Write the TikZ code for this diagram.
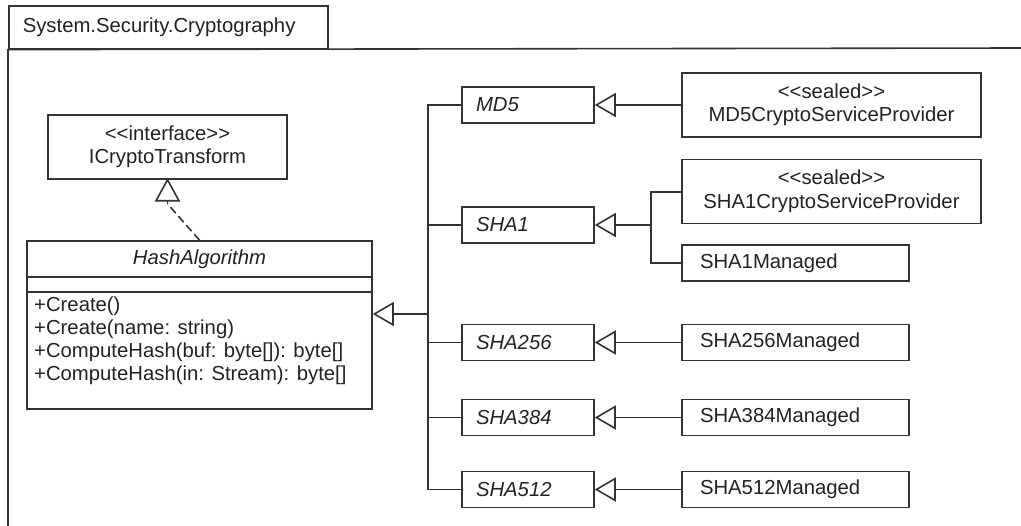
\documentclass[tikz,border=0pt]{standalone}
\usepackage{fontspec}
\setmainfont{Liberation Sans}[Ligatures=TeXOff]
\usetikzlibrary{arrows.meta}
\definecolor{ln}{HTML}{333333}
\definecolor{tx}{HTML}{222222}
\newcommand{\fsz}{\fontsize{20.3}{23.5}\selectfont}
\tikzset{
  conn/.style={draw=ln, line width=1.6pt},
  gen/.style={conn, -{Triangle[open, length=21pt, width=24pt]}},
  box/.style={draw=ln, line width=1.6pt, inner ysep=0pt, text=tx, font=\fsz},
  absbox/.style={box, minimum height=36pt, text width=104pt, inner xsep=14pt, align=left, font=\fsz\itshape},
  implbox/.style={box, minimum height=36pt, text width=191pt, inner xsep=18pt, align=left},
  cspbox/.style={box, minimum height=64pt, minimum width=299pt, inner xsep=0pt, align=center},
}
\begin{document}
\begin{tikzpicture}[x=1pt, y=-1pt]
\useasboundingbox (0,0) rectangle (1021,526);
% package frame
\node[box, minimum height=43pt, text width=291pt, inner xsep=14pt, align=left, anchor=north west] (pkg) at (8,5) {System.Security.Cryptography};
\coordinate (fbl) at (8,530);
\coordinate (ftr) at (1025,48);
\draw[conn] (fbl) -- (pkg.south west) -- (ftr);
% interface
\node[box, minimum width=239pt, minimum height=64pt, align=center] (iface) at (167.5,147) {<<interface>>\\ICryptoTransform};
% HashAlgorithm
\node[box, minimum width=345pt, minimum height=168pt] (hash) at (199.5,325) {};
\node[text=tx, font=\fsz\itshape, inner sep=0pt] (hashname) at (199.5,259) {HashAlgorithm};
\draw[conn] (hash.west |- 0,277) -- (hash.east |- 0,277);
\draw[conn] (hash.west |- 0,292) -- (hash.east |- 0,292);
\node[text=tx, font=\fontsize{20.3}{23}\selectfont, align=left, anchor=west, inner sep=0pt] (methods) at (34,341) {+Create()\\+Create(name: string)\\+ComputeHash(buf: byte[]): byte[]\\+ComputeHash(in: Stream): byte[]};
\coordinate (itip) at ([yshift=-24pt]iface.south);
\draw[conn, dash pattern=on 8pt off 4pt] (hash.north) -- (itip);
\draw[conn] (itip) -- ([yshift=-20pt]iface.south);
\draw[conn, fill=white] (iface.south) -- ++(-11.5,21) -- ++(23,0) -- cycle;
% abstract algorithms
\node[absbox] (md5) at (528,105) {MD5};
\node[absbox] (sha1) at (528,225) {SHA1};
\node[absbox] (sha256) at (528,342.5) {SHA256};
\node[absbox] (sha384) at (528,417.5) {SHA384};
\node[absbox] (sha512) at (528,489.5) {SHA512};
% implementations
\node[cspbox] (md5csp) at (831.5,105) {<<sealed>>\\MD5CryptoServiceProvider};
\node[cspbox] (sha1csp) at (831.5,191.5) {<<sealed>>\\SHA1CryptoServiceProvider};
\node[implbox] (sha1m) at (795.5,263) {SHA1Managed};
\node[implbox] (sha256m) at (795.5,342.5) {SHA256Managed};
\node[implbox] (sha384m) at (795.5,417.5) {SHA384Managed};
\node[implbox] (sha512m) at (795.5,489.5) {SHA512Managed};
% tree to HashAlgorithm
\coordinate (j0) at (428,314);
\draw[conn] (md5.west) -| (j0) |- (sha512.west);
\draw[conn] (sha1.west) -- (sha1.west -| j0);
\draw[conn] (sha256.west) -- (sha256.west -| j0);
\draw[conn] (sha384.west) -- (sha384.west -| j0);
\draw[gen] (j0) -- (j0 -| hash.east);
% implementations to abstract
\draw[gen] (md5csp.west) -- (md5.east);
\coordinate (j1) at (651,225);
\draw[conn] (sha1csp.west |- 0,192) -| (j1) |- (sha1m.west);
\draw[gen] (j1) -- (sha1.east);
\draw[gen] (sha256m.west) -- (sha256.east);
\draw[gen] (sha384m.west) -- (sha384.east);
\draw[gen] (sha512m.west) -- (sha512.east);
\end{tikzpicture}
\end{document}
